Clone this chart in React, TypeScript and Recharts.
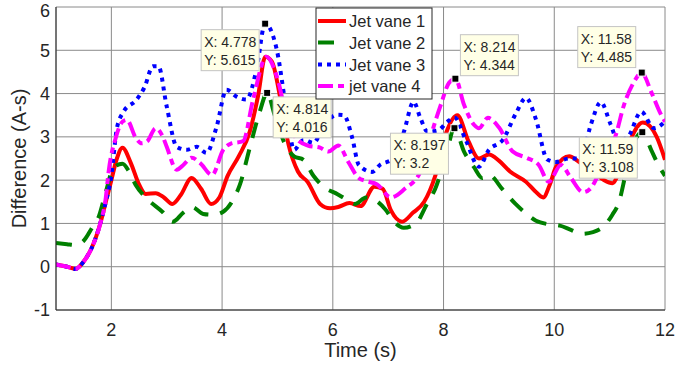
import { LineChart, Line, XAxis, YAxis, CartesianGrid, ReferenceDot } from 'recharts'

type Pt = [number, number]

// [time (s), difference (A-s)] knots per jet vane
const VANE_1: Pt[] = [
  [1.0, 0.05], [1.2, 0.0], [1.35, -0.05], [1.5, 0.12], [1.65, 0.45], [1.8, 1.0], [1.9, 1.5],
  [2.0, 2.0], [2.1, 2.5], [2.2, 2.75], [2.35, 2.4], [2.5, 1.9], [2.62, 1.68], [2.8, 1.7],
  [2.95, 1.6], [3.1, 1.45], [3.25, 1.65], [3.45, 2.05], [3.62, 1.8], [3.8, 1.45], [3.95, 1.6],
  [4.1, 2.1], [4.3, 2.55], [4.5, 3.12], [4.65, 3.95], [4.78, 4.85], [4.9, 4.74], [5.05, 3.9],
  [5.2, 2.82], [5.37, 2.2], [5.55, 1.95], [5.77, 1.45], [5.95, 1.35], [6.1, 1.38], [6.3, 1.47],
  [6.5, 1.4], [6.75, 1.85], [6.9, 1.8], [7.05, 1.3], [7.25, 1.04], [7.45, 1.25], [7.65, 1.5],
  [7.85, 2.1], [8.05, 3.1], [8.25, 3.5], [8.45, 2.9], [8.64, 2.5], [8.82, 2.59], [9.0, 2.45],
  [9.2, 2.2], [9.49, 1.96], [9.65, 1.75], [9.8, 1.6], [9.92, 1.9], [10.03, 2.3], [10.27, 2.55],
  [10.45, 2.42], [10.7, 2.2], [10.9, 2.0], [11.05, 1.93], [11.2, 2.3], [11.35, 2.85],
  [11.6, 3.33], [11.85, 3.0], [12.0, 2.47],
]

const VANE_2: Pt[] = [
  [1.0, 0.55], [1.2, 0.52], [1.35, 0.5], [1.5, 0.6], [1.66, 0.92], [1.77, 1.15], [1.9, 1.73],
  [2.04, 2.29], [2.2, 2.38], [2.32, 2.2], [2.44, 1.89], [2.62, 1.6], [2.92, 1.27], [3.11, 1.04],
  [3.3, 1.25], [3.46, 1.38], [3.66, 1.22], [3.85, 1.2], [4.02, 1.27], [4.2, 1.55], [4.32, 1.89],
  [4.5, 2.75], [4.68, 3.58], [4.814, 4.016], [4.95, 3.5], [5.14, 2.82], [5.3, 2.55],
  [5.47, 2.47], [5.65, 2.1], [5.86, 1.82], [6.05, 1.7], [6.25, 1.55], [6.4, 1.45], [6.6, 1.6],
  [6.75, 1.55], [6.95, 1.32], [7.1, 1.05], [7.28, 0.9], [7.5, 1.0], [7.7, 1.45], [7.85, 1.8],
  [8.05, 2.6], [8.197, 3.2], [8.37, 2.66], [8.55, 2.3], [8.7, 2.05], [8.82, 2.12], [9.07, 1.78],
  [9.3, 1.45], [9.5, 1.22], [9.67, 1.06], [9.9, 0.98], [10.1, 0.95], [10.3, 0.85], [10.5, 0.76],
  [10.7, 0.8], [10.88, 0.92], [11.05, 1.2], [11.17, 1.5], [11.3, 2.2], [11.45, 2.9],
  [11.59, 3.108], [11.75, 2.7], [11.88, 2.35], [12.0, 2.1],
]

const VANE_3: Pt[] = [
  [1.0, 0.05], [1.2, 0.0], [1.35, -0.05], [1.5, 0.12], [1.65, 0.45], [1.8, 1.0], [1.9, 1.5],
  [2.0, 2.1], [2.1, 3.2], [2.22, 3.58], [2.45, 3.85], [2.6, 4.15], [2.75, 4.63], [2.85, 4.63],
  [3.0, 3.7], [3.18, 2.77], [3.36, 2.7], [3.54, 2.77], [3.72, 2.63], [3.9, 3.23], [4.08, 4.09],
  [4.26, 3.93], [4.44, 3.86], [4.62, 4.55], [4.778, 5.615], [4.99, 5.0], [5.17, 3.55],
  [5.3, 2.7], [5.47, 2.93], [5.65, 2.86], [5.83, 3.23], [6.07, 3.51], [6.2, 3.5], [6.35, 2.98],
  [6.47, 2.35], [6.71, 2.19], [6.85, 2.35], [7.09, 2.5], [7.28, 3.1], [7.46, 3.81], [7.58, 3.44],
  [7.71, 3.12], [7.9, 3.15], [8.07, 3.35], [8.2, 3.45], [8.4, 2.93], [8.64, 2.31], [8.82, 2.7],
  [9.07, 2.93], [9.31, 3.55], [9.49, 3.9], [9.67, 3.4], [9.87, 2.48], [10.03, 2.42],
  [10.27, 2.5], [10.48, 2.5], [10.66, 3.28], [10.84, 3.8], [11.02, 3.28], [11.15, 2.9],
  [11.33, 3.0], [11.57, 3.58], [11.8, 3.2], [12.0, 3.35],
]

const VANE_4: Pt[] = [
  [1.0, 0.05], [1.2, 0.0], [1.35, -0.05], [1.5, 0.12], [1.65, 0.45], [1.8, 1.0], [1.9, 1.6],
  [1.95, 2.19], [2.08, 2.98], [2.2, 3.35], [2.28, 3.39], [2.44, 2.98], [2.55, 2.85], [2.65, 2.9],
  [2.8, 3.2], [2.93, 3.0], [3.0, 2.77], [3.18, 2.24], [3.3, 2.35], [3.45, 2.52], [3.6, 2.4],
  [3.82, 2.12], [4.02, 2.7], [4.15, 2.84], [4.38, 2.9], [4.56, 3.86], [4.8, 4.85], [4.99, 4.39],
  [5.17, 3.46], [5.35, 2.95], [5.55, 2.8], [5.77, 2.75], [5.92, 2.66], [6.1, 2.8], [6.28, 2.42],
  [6.46, 2.06], [6.6, 1.98], [6.8, 1.9], [7.05, 1.6], [7.3, 1.8], [7.58, 2.19], [7.76, 2.98],
  [7.95, 3.74], [8.1, 4.25], [8.214, 4.344], [8.37, 3.74], [8.55, 3.28], [8.64, 3.2],
  [8.8, 3.44], [9.0, 3.22], [9.25, 2.66], [9.49, 2.52], [9.72, 2.35], [9.9, 1.96], [10.12, 2.35],
  [10.3, 2.05], [10.52, 1.72], [10.65, 1.8], [10.82, 2.2], [10.97, 2.66], [11.1, 3.0],
  [11.26, 3.74], [11.44, 4.27], [11.58, 4.485], [11.75, 4.04], [11.93, 3.51], [12.0, 3.35],
]

const NAMES = ['Jet vane 1', 'Jet vane 2', 'Jet vane 3', 'jet vane 4']
const X_TICKS = [2, 4, 6, 8, 10, 12]
const Y_TICKS = [-1, 0, 1, 2, 3, 4, 5, 6]

// data tips (x, y)
const TIP_X = [4.778, 4.814, 8.214, 8.197, 11.58, 11.59]
const TIP_Y = [5.615, 4.016, 4.344, 3.2, 4.485, 3.108]

// where each tip box sits relative to its marker: [dx, dy]
const TIP_OFFSET: Pt[] = [
  [-64, 6], [6, 4], [5, -44], [-64, 5], [-64, -46], [-63, 5],
]

const INK = '#262626'
const FONT = '"Liberation Sans", Arial, Helvetica, sans-serif'

const SERIES = [
  { name: NAMES[0], points: VANE_1, color: '#ff0000', width: 4, dash: undefined as string | undefined },
  { name: NAMES[1], points: VANE_2, color: '#008000', width: 4, dash: '16 12' },
  { name: NAMES[2], points: VANE_3, color: '#0000ff', width: 4, dash: '4 5' },
  { name: NAMES[3], points: VANE_4, color: '#ff00ff', width: 4, dash: '15 5 6 5' },
]

function tipShape(i: number) {
  return (props: any) => {
    const { cx, cy } = props
    const [dx, dy] = TIP_OFFSET[i]
    const left = cx + dx
    const top = cy + dy
    return (
      <g>
        <rect x={cx - 3.5} y={cy - 3.5} width={7} height={7} fill="#000" stroke="#fff" strokeWidth={1} />
        <rect x={left} y={top} width={58} height={41} fill="#ffffe6" stroke="#c4c4c4" strokeWidth={1} />
        <text x={left + 3} y={top + 17} fontSize={14} fill={INK} fontFamily={FONT}>
          {`X: ${TIP_X[i]}`}
        </text>
        <text x={left + 3} y={top + 35} fontSize={14} fill={INK} fontFamily={FONT}>
          {`Y: ${TIP_Y[i]}`}
        </text>
      </g>
    )
  }
}

function ChartLegend() {
  const rows = [14, 35.5, 57.5, 79]
  return (
    <svg
      width={118}
      height={93}
      style={{ position: 'absolute', left: 315, top: 7 }}
    >
      <rect x={1} y={1} width={116} height={91} fill="#fff" stroke={INK} strokeWidth={1} />
      {SERIES.map((s, i) => (
        <g key={s.name}>
          <line
            x1={3}
            x2={31}
            y1={rows[i]}
            y2={rows[i]}
            stroke={s.color}
            strokeWidth={s.width}
            strokeDasharray={s.dash}
          />
          <text x={34} y={rows[i] + 6} fontSize={16.5} fill={INK} fontFamily={FONT}>
            {s.name}
          </text>
        </g>
      ))}
    </svg>
  )
}

export default function App() {
  return (
    <div style={{ position: 'absolute', left: 0, top: 0, width: 675, height: 369, background: '#fff' }}>
      <LineChart
        width={675}
        height={369}
        margin={{ top: 7, right: 10, left: 0, bottom: 0 }}
        style={{ fontFamily: FONT }}
      >
        <CartesianGrid stroke="#8a8a8a" strokeWidth={1} />
        <XAxis
          dataKey="t"
          type="number"
          domain={[1, 12]}
          ticks={X_TICKS}
          allowDataOverflow
          height={59}
          tickSize={0}
          tickMargin={13}
          stroke={INK}
          tick={{ fill: INK, fontSize: 18 }}
          label={{
            content: () => (
              <text x={360.5} y={357} textAnchor="middle" fontSize={20} fill={INK} fontFamily={FONT}>
                Time (s)
              </text>
            ),
          }}
        />
        <XAxis xAxisId="top" orientation="top" type="number" domain={[1, 12]} height={0} tick={false} tickLine={false} stroke={INK} />
        <YAxis
          type="number"
          domain={[-1, 6]}
          ticks={Y_TICKS}
          allowDataOverflow
          width={56}
          tickSize={0}
          tickMargin={6}
          stroke={INK}
          tick={{ fill: INK, fontSize: 18 }}
          label={{
            content: () => (
              <text
                x={19}
                y={158.5}
                transform="rotate(-90 19 158.5)"
                textAnchor="middle"
                dominantBaseline="central"
                fontSize={20}
                fill={INK}
                fontFamily={FONT}
              >
                Difference (A-s)
              </text>
            ),
          }}
        />
        <YAxis yAxisId="right" orientation="right" type="number" domain={[-1, 6]} width={0} tick={false} tickLine={false} stroke={INK} />
        {SERIES.map((s) => (
          <Line
            key={s.name}
            name={s.name}
            data={s.points.map(([t, v]) => ({ t, v }))}
            dataKey="v"
            type="monotone"
            stroke={s.color}
            strokeWidth={s.width}
            strokeDasharray={s.dash}
            dot={false}
            activeDot={false}
            isAnimationActive={false}
          />
        ))}
        {TIP_X.map((x, i) => (
          <ReferenceDot key={i} x={x} y={TIP_Y[i]} r={4} shape={tipShape(i)} />
        ))}
      </LineChart>
      <ChartLegend />
    </div>
  )
}
